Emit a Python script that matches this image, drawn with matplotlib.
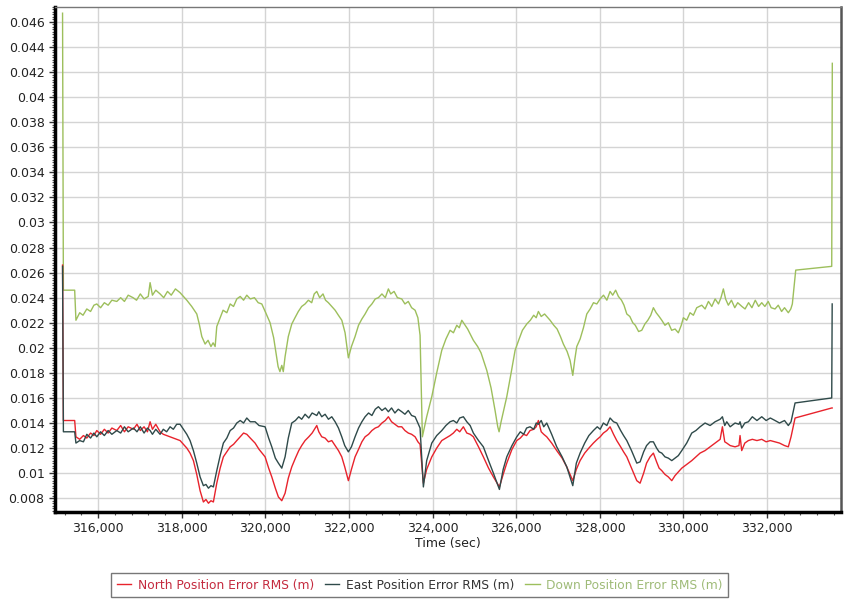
import matplotlib
matplotlib.use('Agg')
import matplotlib.pyplot as plt
from matplotlib.ticker import MultipleLocator, FuncFormatter

plt.rcParams.update({
    'font.family': 'DejaVu Sans',
    'font.size': 9,
    'axes.linewidth': 1,
})

# --- data ---
# time stamps shared by the North / East curves
t_ne = [315150, 315170, 315440, 315470, 315560, 315649, 315730, 315820, 315900, 315969,
        316060, 316150, 316240, 316330, 316447, 316540, 316630, 316720, 316845, 316930,
        317010, 317100, 317180, 317244, 317300, 317380, 317483, 317560, 317640, 317722,
        317800, 317880, 317961, 318040, 318122, 318200, 318280, 318360, 318440, 318519,
        318580, 318640, 318700, 318758, 318839, 318920, 318997, 319080, 319160, 319240,
        319318, 319400, 319480, 319557, 319640, 319755, 319850, 319995, 320080, 320155,
        320240, 320313, 320394, 320473, 320550, 320633, 320720, 320800, 320870, 320951,
        321040, 321120, 321231, 321280, 321350, 321430, 321510, 321590, 321670, 321750,
        321829, 321900, 321987, 322060, 322147, 322230, 322310, 322387, 322470, 322550,
        322630, 322705, 322790, 322870, 322944, 323020, 323100, 323180, 323264, 323340,
        323420, 323500, 323583, 323650, 323702, 323781, 323860, 323982, 324100, 324221,
        324320, 324420, 324499, 324580, 324650, 324738, 324820, 324900, 324977, 325100,
        325216, 325340, 325456, 325600, 325690, 325776, 325900, 326015, 326100, 326180,
        326250, 326333, 326420, 326480, 326532, 326600, 326660, 326732, 326850, 326971,
        327100, 327211, 327355, 327440, 327530, 327640, 327740, 327848, 327940, 328010,
        328087, 328170, 328247, 328330, 328407, 328500, 328570, 328647, 328760, 328886,
        328965, 329050, 329120, 329204, 329283, 329360, 329420, 329484, 329560, 329640,
        329723, 329800, 329880, 329962, 330080, 330201, 330300, 330400, 330519, 330640,
        330759, 330880, 330934, 330990, 331038, 331120, 331237, 331330, 331356, 331396,
        331470, 331555, 331650, 331760, 331875, 331980, 332080, 332193, 332300, 332420,
        332511, 332576, 332672, 333549, 333560]

north = [0.0266, 0.0142, 0.0142, 0.0129, 0.0127, 0.0130, 0.0128, 0.0132, 0.0130, 0.0134,
         0.0131, 0.0135, 0.0132, 0.0136, 0.0134, 0.0138, 0.0133, 0.0137, 0.0135, 0.0139,
         0.0134, 0.0137, 0.0133, 0.0141, 0.0135, 0.0139, 0.0133, 0.0131, 0.0130, 0.0129,
         0.0128, 0.0127, 0.0126, 0.0123, 0.0120, 0.0116, 0.0110, 0.0099, 0.0086, 0.0077,
         0.0079, 0.0076, 0.0078, 0.0077, 0.0092, 0.0104, 0.0113, 0.0117, 0.0121, 0.0123,
         0.0126, 0.0129, 0.0132, 0.0131, 0.0128, 0.0124, 0.0119, 0.0113, 0.0104, 0.0097,
         0.0088, 0.0081, 0.0078, 0.0084, 0.0096, 0.0105, 0.0112, 0.0118, 0.0122, 0.0126,
         0.0129, 0.0132, 0.0138, 0.0133, 0.0129, 0.0128, 0.0125, 0.0126, 0.0122, 0.0118,
         0.0113, 0.0105, 0.0094, 0.0103, 0.0113, 0.0119, 0.0125, 0.0129, 0.0131, 0.0134,
         0.0136, 0.0137, 0.0140, 0.0142, 0.0145, 0.0141, 0.0139, 0.0137, 0.0137, 0.0134,
         0.0132, 0.0131, 0.0129, 0.0125, 0.0123, 0.0092, 0.0103, 0.0113, 0.0120, 0.0126,
         0.0128, 0.0130, 0.0132, 0.0135, 0.0133, 0.0137, 0.0132, 0.0131, 0.0129, 0.0121,
         0.0113, 0.0104, 0.0097, 0.0089, 0.0099, 0.0108, 0.0119, 0.0126, 0.0128, 0.0131,
         0.0130, 0.0134, 0.0135, 0.0137, 0.0142, 0.0133, 0.0131, 0.0129, 0.0124, 0.0118,
         0.0112, 0.0105, 0.0094, 0.0103, 0.0110, 0.0116, 0.0120, 0.0124, 0.0127, 0.0129,
         0.0132, 0.0134, 0.0137, 0.0131, 0.0126, 0.0121, 0.0117, 0.0113, 0.0104, 0.0094,
         0.0092, 0.0100, 0.0108, 0.0113, 0.0116, 0.0109, 0.0104, 0.0102, 0.0099, 0.0097,
         0.0094, 0.0098, 0.0101, 0.0104, 0.0107, 0.0110, 0.0113, 0.0116, 0.0118, 0.0121,
         0.0124, 0.0127, 0.0137, 0.0125, 0.0124, 0.0122, 0.0121, 0.0122, 0.0130, 0.0118,
         0.0124, 0.0126, 0.0127, 0.0126, 0.0127, 0.0125, 0.0126, 0.0125, 0.0124, 0.0122,
         0.0121, 0.0129, 0.0144, 0.0152, 0.0152]

east = [0.0265, 0.0133, 0.0133, 0.0124, 0.0126, 0.0125, 0.0131, 0.0128, 0.0132, 0.0129,
        0.0133, 0.0130, 0.0134, 0.0131, 0.0134, 0.0132, 0.0137, 0.0133, 0.0136, 0.0133,
        0.0137, 0.0132, 0.0136, 0.0134, 0.0131, 0.0135, 0.0131, 0.0135, 0.0133, 0.0137,
        0.0135, 0.0139, 0.0139, 0.0135, 0.0131, 0.0126, 0.0118, 0.0108, 0.0097, 0.0090,
        0.0091, 0.0088, 0.0090, 0.0089, 0.0102, 0.0114, 0.0124, 0.0128, 0.0134, 0.0136,
        0.0140, 0.0142, 0.0140, 0.0144, 0.0141, 0.0141, 0.0138, 0.0137, 0.0128, 0.0121,
        0.0112, 0.0108, 0.0104, 0.0113, 0.0128, 0.0140, 0.0142, 0.0145, 0.0143, 0.0147,
        0.0144, 0.0148, 0.0146, 0.0149, 0.0145, 0.0147, 0.0143, 0.0145, 0.0141, 0.0136,
        0.0129, 0.0122, 0.0117, 0.0121, 0.0129, 0.0136, 0.0141, 0.0145, 0.0148, 0.0146,
        0.0151, 0.0153, 0.0150, 0.0152, 0.0149, 0.0152, 0.0148, 0.0151, 0.0149, 0.0147,
        0.0150, 0.0146, 0.0145, 0.0140, 0.0136, 0.0089, 0.0110, 0.0124, 0.0130, 0.0134,
        0.0138, 0.0141, 0.0142, 0.0140, 0.0144, 0.0145, 0.0141, 0.0138, 0.0132, 0.0126,
        0.0121, 0.0110, 0.0100, 0.0087, 0.0103, 0.0113, 0.0122, 0.0129, 0.0133, 0.0131,
        0.0136, 0.0137, 0.0135, 0.0140, 0.0139, 0.0142, 0.0137, 0.0140, 0.0131, 0.0121,
        0.0113, 0.0105, 0.0090, 0.0108, 0.0116, 0.0124, 0.0130, 0.0134, 0.0137, 0.0135,
        0.0140, 0.0138, 0.0144, 0.0141, 0.0140, 0.0134, 0.0130, 0.0126, 0.0118, 0.0108,
        0.0109, 0.0117, 0.0122, 0.0125, 0.0125, 0.0120, 0.0117, 0.0116, 0.0113, 0.0112,
        0.0110, 0.0112, 0.0114, 0.0118, 0.0124, 0.0132, 0.0134, 0.0137, 0.0140, 0.0138,
        0.0141, 0.0143, 0.0145, 0.0138, 0.0141, 0.0137, 0.0140, 0.0139, 0.0141, 0.0136,
        0.0140, 0.0141, 0.0145, 0.0142, 0.0145, 0.0142, 0.0144, 0.0142, 0.0140, 0.0142,
        0.0138, 0.0141, 0.0156, 0.0160, 0.0235]

t_down = [315150, 315170, 315440, 315470, 315560, 315640, 315730, 315820, 315900, 315969,
          316060, 316150, 316240, 316330, 316447, 316540, 316630, 316720, 316837, 316920,
          317010, 317100, 317200, 317244, 317300, 317380, 317483, 317570, 317660, 317750,
          317850, 317961, 318040, 318122, 318240, 318361, 318420, 318481, 318560, 318631,
          318700, 318751, 318800, 318839, 318920, 318990, 319080, 319160, 319240, 319318,
          319400, 319480, 319557, 319640, 319740, 319830, 319916, 320010, 320114, 320200,
          320306, 320350, 320394, 320430, 320473, 320550, 320633, 320710, 320790, 320870,
          320951, 321030, 321110, 321170, 321231, 321300, 321380, 321440, 321509, 321590,
          321670, 321748, 321830, 321908, 321987, 322060, 322147, 322230, 322310, 322387,
          322470, 322550, 322630, 322705, 322790, 322870, 322944, 323000, 323080, 323160,
          323264, 323340, 323420, 323500, 323583, 323650, 323702, 323757, 323860, 323982,
          324100, 324221, 324320, 324420, 324500, 324580, 324640, 324700, 324760, 324840,
          324977, 325080, 325160, 325298, 325400, 325496, 325560, 325592, 325640, 325776,
          325880, 325975, 326060, 326150, 326254, 326340, 326420, 326480, 326532, 326600,
          326680, 326812, 326900, 326980, 327060, 327130, 327220, 327290, 327355, 327400,
          327450, 327530, 327610, 327690, 327770, 327850, 327930, 328008, 328090, 328170,
          328247, 328310, 328380, 328446, 328520, 328580, 328647, 328720, 328790, 328850,
          328930, 329005, 329080, 329150, 329220, 329283, 329350, 329420, 329484, 329560,
          329640, 329720, 329802, 329880, 329950, 330000, 330080, 330160, 330240, 330320,
          330440, 330520, 330600, 330680, 330760, 330840, 330900, 330957, 331010, 331076,
          331150, 331230, 331300, 331400, 331476, 331560, 331640, 331720, 331800, 331875,
          331950, 332030, 332100, 332193, 332270, 332350, 332420, 332511, 332570, 332607,
          332688, 333549, 333563]

down = [0.0467, 0.0246, 0.0246, 0.0222, 0.0228, 0.0226, 0.0231, 0.0229, 0.0234, 0.0235,
        0.0232, 0.0236, 0.0234, 0.0238, 0.0237, 0.0240, 0.0237, 0.0242, 0.0240, 0.0238,
        0.0243, 0.0239, 0.0241, 0.0252, 0.0242, 0.0246, 0.0243, 0.0240, 0.0245, 0.0242,
        0.0247, 0.0244, 0.0241, 0.0238, 0.0233, 0.0227, 0.0219, 0.0209, 0.0203, 0.0206,
        0.0201, 0.0204, 0.0201, 0.0217, 0.0224, 0.0230, 0.0228, 0.0235, 0.0233, 0.0239,
        0.0241, 0.0238, 0.0242, 0.0239, 0.0240, 0.0236, 0.0235, 0.0228, 0.0220, 0.0208,
        0.0185, 0.0181, 0.0186, 0.0181, 0.0193, 0.0209, 0.0219, 0.0224, 0.0229, 0.0233,
        0.0235, 0.0238, 0.0236, 0.0243, 0.0245, 0.0240, 0.0243, 0.0238, 0.0236, 0.0233,
        0.0230, 0.0226, 0.0222, 0.0212, 0.0192, 0.0201, 0.0209, 0.0218, 0.0223, 0.0227,
        0.0232, 0.0235, 0.0239, 0.0240, 0.0243, 0.0240, 0.0247, 0.0243, 0.0245, 0.0240,
        0.0239, 0.0235, 0.0237, 0.0232, 0.0230, 0.0224, 0.0210, 0.0129, 0.0145, 0.0161,
        0.0180, 0.0198, 0.0207, 0.0214, 0.0212, 0.0218, 0.0216, 0.0222, 0.0219, 0.0215,
        0.0206, 0.0201, 0.0196, 0.0182, 0.0168, 0.0150, 0.0137, 0.0133, 0.0141, 0.0161,
        0.0180, 0.0198, 0.0206, 0.0214, 0.0219, 0.0222, 0.0226, 0.0224, 0.0229, 0.0225,
        0.0227, 0.0222, 0.0218, 0.0215, 0.0209, 0.0203, 0.0197, 0.0190, 0.0178, 0.0190,
        0.0201, 0.0207, 0.0216, 0.0227, 0.0231, 0.0236, 0.0235, 0.0239, 0.0242, 0.0238,
        0.0245, 0.0242, 0.0246, 0.0241, 0.0238, 0.0234, 0.0227, 0.0225, 0.0220, 0.0218,
        0.0213, 0.0214, 0.0219, 0.0222, 0.0226, 0.0232, 0.0228, 0.0225, 0.0222, 0.0218,
        0.0220, 0.0214, 0.0215, 0.0212, 0.0218, 0.0224, 0.0222, 0.0228, 0.0226, 0.0232,
        0.0234, 0.0231, 0.0237, 0.0233, 0.0239, 0.0235, 0.0240, 0.0247, 0.0239, 0.0234,
        0.0238, 0.0232, 0.0236, 0.0233, 0.0231, 0.0236, 0.0232, 0.0238, 0.0233, 0.0236,
        0.0233, 0.0237, 0.0232, 0.0231, 0.0234, 0.0229, 0.0232, 0.0228, 0.0231, 0.0235,
        0.0262, 0.0265, 0.0427]

labels = ['North Position Error RMS (m)', 'East Position Error RMS (m)', 'Down Position Error RMS (m)']
colors = ['#e8232c', '#2f4a4a', '#9dbf5c']
text_colors = ['#c42a3e', '#333333', '#9fbb78']

fig = plt.figure(figsize=(8.44, 6.02), dpi=100)
ax = fig.add_axes([0.0652, 0.1495, 0.9312, 0.839])

ax.plot(t_ne, north, color=colors[0], lw=1.0, label=labels[0], zorder=3)
ax.plot(t_ne, east, color=colors[1], lw=1.0, label=labels[1], zorder=4)
ax.plot(t_down, down, color=colors[2], lw=1.0, label=labels[2], zorder=2)

ax.set_xlim(314970, 333770)
ax.set_ylim(0.0069, 0.0472)

ax.xaxis.set_major_locator(MultipleLocator(2000))
ax.xaxis.set_minor_locator(MultipleLocator(400))
ax.yaxis.set_major_locator(MultipleLocator(0.002))
ax.yaxis.set_minor_locator(MultipleLocator(0.0002))
ax.xaxis.set_major_formatter(FuncFormatter(lambda v, p: f'{int(round(v)):,}'))
ax.yaxis.set_major_formatter(FuncFormatter(lambda v, p: f'{round(v, 3):g}'))

ax.grid(True, which='major', color='#d4d4d4', lw=1)
ax.set_axisbelow(True)
ax.tick_params(which='major', length=4, width=1, color='#333333', labelcolor='#222222', labelsize=9)
ax.tick_params(which='minor', length=2, width=0.8, color='#555555')

ax.spines['left'].set_linewidth(2.5)
ax.spines['left'].set_color('black')
ax.spines['bottom'].set_linewidth(2.5)
ax.spines['bottom'].set_color('black')
ax.spines['top'].set_color('#777777')
ax.spines['right'].set_color('#555555')
ax.spines['right'].set_linewidth(1.8)

ax.set_xlabel('Time (sec)', fontsize=9, labelpad=1, color='#222222')

leg = fig.legend(loc='center', bbox_to_anchor=(0.497, 0.028), ncol=3, fontsize=8.8,
                 frameon=True, fancybox=False, edgecolor='#555555', handlelength=1.2,
                 handletextpad=0.5, columnspacing=0.9, borderpad=0.45)
leg.get_frame().set_linewidth(1.0)
for txt, c in zip(leg.get_texts(), text_colors):
    txt.set_color(c)

fig.savefig('out.png', dpi=100)
